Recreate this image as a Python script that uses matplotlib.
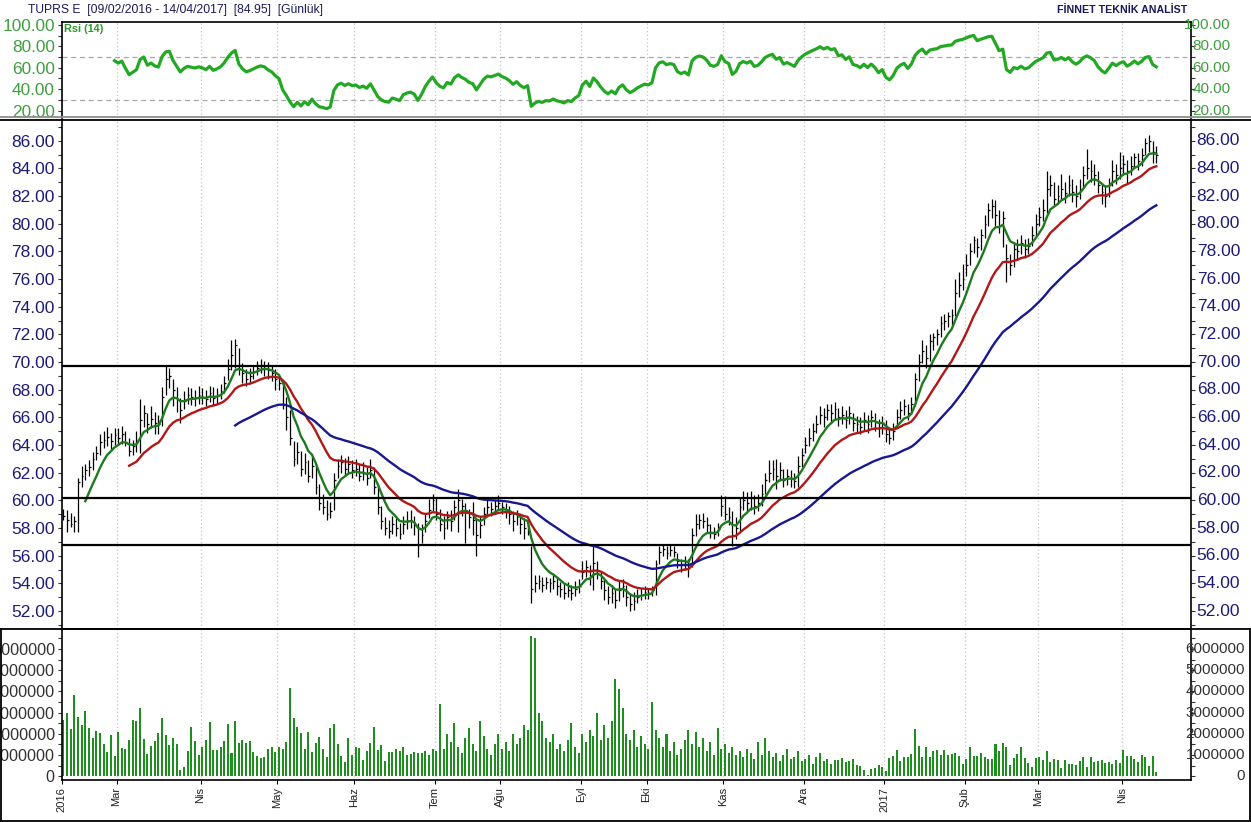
"""TUPRS daily chart: RSI(14), price bars with moving averages, volume."""

from __future__ import annotations

import matplotlib

matplotlib.use("Agg")
import matplotlib.pyplot as plt
import matplotlib.transforms as mtransforms
import numpy as np
import pandas as pd
from matplotlib.lines import Line2D
from matplotlib.ticker import FuncFormatter, MultipleLocator

plt.rcParams["font.family"] = ["Liberation Sans", "DejaVu Sans"]

# Borsa Istanbul trading days 09/02/2016 - 14/04/2017
START, END = "2016-02-09", "2017-04-14"
HOLIDAYS = ["2016-05-19", "2016-07-05", "2016-07-06", "2016-07-07", "2016-08-30",
            "2016-09-12", "2016-09-13", "2016-09-14", "2016-09-15"]
MONTH_LABELS = ["2016", "Mar", "Nis", "May", "Haz", "Tem", "Ağu", "Eyl", "Eki",
                "Kas", "Ara", "2017", "Şub", "Mar", "Nis"]

CLOSE = [
    58.9, 58.6, 58.3, 58.5, 61.3, 61.8, 62.2, 62.4, 63.0, 63.4, 64.2, 64.4, 64.6, 64.3, 64.7,
    64.5, 64.8, 64.2, 63.6, 63.9, 64.2, 65.8, 66.3, 65.5, 65.9, 65.6, 65.5, 67.5, 68.8, 69.0,
    68.0, 67.3, 66.5, 67.2, 67.6, 67.5, 67.4, 67.6,
    67.5, 67.3, 67.8, 67.4, 67.6, 67.9, 68.5, 69.5, 70.5, 71.2, 69.8, 69.2, 68.8, 69.0, 69.3,
    69.6, 69.8, 69.7, 69.4, 69.2, 68.8,
    68.5, 67.0, 66.0, 64.5, 63.0, 63.5, 62.3, 62.8, 61.8, 62.5, 61.0, 59.8, 59.5, 59.0, 59.2,
    61.5, 62.5, 62.8, 62.3, 62.6, 62.2,
    62.3, 61.8, 62.0, 61.6, 62.2, 61.0, 59.5, 58.5, 58.0, 57.8, 58.3, 58.0, 57.6, 58.3, 58.5,
    58.6, 58.2, 56.8, 57.5, 58.5, 59.3, 60.0,
    59.0, 58.3, 58.0, 58.8, 58.5, 59.5, 60.0, 59.6, 59.3, 58.8, 58.6, 57.5, 58.2, 59.0, 59.5,
    59.4, 59.6, 59.8,
    59.5, 59.3, 59.0, 58.5, 58.8, 58.3, 58.0, 58.2, 53.6, 54.0, 54.2, 53.9, 54.1, 54.0, 54.2,
    53.8, 53.6, 53.3, 53.5, 53.3, 53.6, 53.8,
    54.8, 55.2, 54.5, 55.5, 55.0, 54.2, 53.5, 53.0, 53.3, 52.8, 53.5, 53.8, 53.0, 52.5, 52.7,
    53.0, 53.2, 53.4,
    53.3, 53.5, 55.4, 56.3, 56.5, 56.2, 56.4, 56.3, 55.6, 55.4, 55.6, 55.3, 57.5, 58.3, 58.6,
    58.5, 58.2, 57.7, 57.6, 57.9, 59.6,
    59.0, 58.8, 57.5, 58.0, 59.5, 60.0, 59.8, 60.2, 59.6, 59.8, 60.5, 61.5, 62.0, 62.3, 61.8,
    62.2, 61.5, 61.8, 61.6, 61.4, 62.5, 63.3,
    64.0, 64.5, 65.0, 65.5, 66.2, 66.0, 66.5, 66.3, 66.6, 66.0, 66.2, 65.8, 66.3, 65.6, 65.5,
    65.3, 65.8, 65.5, 66.0, 65.7, 65.2, 65.6,
    64.8, 64.5, 65.0, 66.0, 66.5, 66.8, 66.3, 67.0, 68.8, 70.0, 70.8, 70.3, 71.5, 71.8, 72.0,
    72.8, 73.0, 73.3, 73.4, 75.0, 75.6, 76.0,
    77.0, 78.0, 78.8, 78.3, 79.2, 80.0, 81.0, 81.3, 80.6, 79.8, 80.4, 77.5, 77.0, 78.2, 78.0,
    78.6, 78.2, 78.4, 79.2, 80.0,
    80.5, 81.0, 82.5, 82.8, 81.8, 82.0, 82.5, 82.2, 82.8, 82.3, 82.0, 82.5, 83.5, 84.0, 83.8,
    83.5, 82.8, 82.3, 82.0, 82.8, 83.8, 83.5, 84.0,
    84.3, 83.8, 84.2, 84.8, 84.5, 85.0, 85.8, 86.0, 85.2, 84.95,
]

HIGH = [
    59.4, 59.3, 59.1, 58.9, 61.6, 62.5, 62.6, 62.9, 63.5, 63.9, 64.8, 65.0, 65.3, 64.9, 65.2,
    65.2, 65.4, 65.0, 64.5, 64.4, 65.0, 67.3, 66.9, 66.3, 66.8, 66.4, 66.2, 68.2, 69.7, 69.6,
    68.8, 68.2, 67.4, 67.9, 68.2, 68.1, 68.0, 68.3,
    68.1, 68.0, 68.3, 68.2, 68.1, 68.4, 69.0, 70.2, 71.6, 71.7, 71.0, 69.9, 69.5, 69.6, 69.8,
    70.1, 70.2, 70.1, 70.0, 69.8, 69.5,
    69.0, 68.6, 67.5, 66.5, 64.3, 64.2, 63.6, 63.4, 62.9, 63.2, 62.6, 61.2, 60.5, 60.0, 59.9,
    62.0, 63.0, 63.3, 63.1, 63.2, 62.9,
    63.0, 62.6, 62.8, 62.4, 63.0, 62.4, 61.2, 59.6, 58.8, 58.6, 58.9, 58.7, 58.4, 58.9, 59.2,
    59.3, 58.9, 58.4, 58.3, 59.0, 60.1, 60.5,
    60.2, 59.4, 58.9, 59.2, 59.3, 60.0, 60.8, 60.1, 59.8, 59.4, 59.9, 58.7, 58.9, 59.5, 60.0,
    59.9, 60.1, 60.4,
    59.9, 59.8, 59.6, 59.2, 59.3, 58.9, 58.7, 58.6, 56.7, 54.6, 54.6, 54.5, 54.5, 54.4, 54.6,
    54.4, 54.1, 54.0, 54.1, 53.9, 54.2, 54.3,
    55.6, 55.7, 55.3, 56.8, 55.6, 54.9, 54.3, 53.8, 53.9, 53.6, 54.2, 54.3, 53.9, 53.3, 53.4,
    53.6, 53.7, 53.8,
    53.7, 53.8, 55.7, 56.7, 56.8, 56.7, 56.8, 56.7, 56.2, 55.8, 56.0, 55.8, 58.0, 59.0, 59.0,
    59.1, 58.8, 58.3, 58.1, 58.4, 60.4,
    60.3, 59.5, 59.2, 58.8, 60.2, 60.7, 60.6, 60.7, 60.4, 60.5, 61.2, 62.0, 62.9, 62.9, 63.0,
    62.8, 62.3, 62.3, 62.2, 62.0, 63.2, 63.8,
    64.6, 65.2, 65.6, 66.2, 66.8, 66.7, 67.0, 67.0, 67.1, 66.7, 66.8, 66.5, 66.8, 66.3, 66.1,
    66.0, 66.4, 66.2, 66.5, 66.3, 65.9, 66.1,
    65.8, 65.3, 65.6, 66.6, 67.2, 67.3, 67.0, 67.5, 69.2, 70.6, 71.6, 71.2, 72.0, 72.1, 72.4,
    73.3, 73.5, 73.6, 73.8, 76.0, 76.5, 77.1,
    77.8, 78.6, 79.1, 79.0, 79.6, 80.6, 81.5, 81.8, 81.7, 81.0, 80.9, 78.5, 77.8, 78.7, 78.9,
    79.2, 78.9, 79.0, 79.8, 80.7,
    81.2, 81.8, 83.8, 83.5, 83.0, 82.8, 83.6, 83.0, 83.5, 83.2, 82.8, 83.2, 84.2, 85.4, 84.6,
    84.3, 83.8, 82.9, 82.8, 83.3, 84.6, 84.3, 85.2,
    85.0, 84.6, 84.9, 85.1, 85.1, 85.5, 86.2, 86.4, 86.0, 85.6,
]

LOW = [
    58.6, 57.7, 58.1, 57.7, 57.7, 61.0, 61.5, 61.8, 62.2, 62.9, 63.3, 63.8, 63.9, 63.7, 64.0,
    64.0, 64.1, 63.9, 63.2, 63.3, 63.5, 63.4, 65.3, 64.9, 65.2, 64.8, 64.8, 65.4, 67.6, 68.1,
    66.8, 66.4, 65.6, 66.6, 67.0, 66.9, 66.8, 67.0,
    67.0, 66.8, 67.1, 66.9, 67.0, 67.3, 67.8, 68.7, 69.4, 69.6, 69.1, 68.5, 68.3, 68.4, 68.8,
    69.1, 69.2, 69.0, 68.8, 68.6, 68.0,
    68.0, 66.6, 65.1, 64.0, 62.5, 62.6, 61.8, 61.9, 61.3, 61.6, 60.5, 59.3, 59.0, 58.6, 58.7,
    59.3, 61.6, 62.0, 61.8, 61.9, 61.6,
    61.8, 61.4, 61.5, 61.1, 61.6, 60.5, 59.0, 57.9, 57.5, 57.3, 57.6, 57.4, 57.2, 57.6, 57.9,
    58.0, 57.5, 55.9, 56.9, 57.7, 58.7, 59.2,
    58.6, 57.8, 57.2, 57.9, 57.8, 58.6, 57.7, 58.9, 56.9, 58.0, 57.5, 56.0, 57.3, 58.2, 59.0,
    58.9, 59.0, 59.3,
    59.0, 58.7, 58.3, 57.8, 58.2, 57.6, 57.2, 57.5, 52.6, 53.4, 53.6, 53.4, 53.6, 53.4, 53.6,
    53.2, 53.0, 52.9, 53.0, 52.8, 53.1, 53.3,
    54.3, 54.5, 53.9, 53.5, 54.3, 53.6, 52.8, 52.5, 52.6, 52.2, 52.7, 53.0, 52.4, 52.0, 52.1,
    52.6, 52.8, 52.9,
    52.9, 53.1, 53.2, 55.4, 56.0, 55.8, 56.0, 55.9, 55.1, 54.8, 55.0, 54.5, 55.2, 57.4, 57.9,
    58.0, 57.7, 57.3, 57.2, 57.4, 58.9,
    58.6, 58.2, 56.7, 57.2, 57.8, 59.3, 59.2, 59.3, 59.0, 59.2, 59.6, 60.5, 61.3, 61.5, 60.8,
    61.4, 61.0, 61.1, 61.0, 60.9, 61.0, 62.4,
    63.4, 63.9, 64.3, 64.9, 65.5, 65.3, 65.8, 65.6, 65.9, 65.4, 65.5, 65.2, 65.5, 65.0, 64.9,
    64.8, 65.1, 64.9, 65.3, 65.0, 64.6, 64.8,
    64.2, 64.1, 64.4, 65.2, 65.9, 66.2, 65.8, 66.4, 66.8, 68.6, 69.9, 69.6, 70.1, 70.9, 71.2,
    71.8, 72.3, 72.5, 72.7, 73.3, 74.7, 75.2,
    76.2, 77.0, 77.9, 77.6, 78.1, 79.0, 79.8, 80.4, 79.8, 79.3, 78.3, 75.8, 76.3, 76.9, 77.4,
    77.8, 77.5, 77.8, 78.4, 79.1,
    79.8, 80.2, 80.8, 82.0, 81.3, 81.4, 81.8, 81.5, 82.0, 81.6, 81.2, 81.8, 82.6, 83.2, 83.0,
    82.8, 82.2, 81.4, 81.2, 81.9, 82.7, 82.9, 83.2,
    83.5, 82.9, 83.5, 84.0, 83.9, 84.2, 85.0, 85.2, 84.4, 84.4,
]

# volume, millions of shares
VOLUME = [
    2.66, 2.97, 2.23, 3.83, 2.80, 2.42, 3.08, 2.26, 1.81, 2.14, 2.04, 1.52, 1.15, 1.95, 0.96,
    2.09, 1.33, 1.29, 1.71, 2.66, 2.61, 3.22, 1.76, 1.05, 1.43, 1.67, 2.04, 2.75, 1.95, 1.48,
    1.81, 1.52, 0.30, 0.44, 1.19, 2.32, 1.67, 1.01, 1.38, 1.71, 2.56, 1.24, 1.24, 1.38, 1.67,
    2.47, 1.10, 2.61, 1.57, 1.71, 1.57, 1.67, 1.15, 0.96, 0.86, 0.91, 1.29, 1.38, 1.15, 1.38,
    1.29, 1.62, 4.17, 2.75, 2.32, 2.04, 1.29, 2.09, 1.15, 1.57, 1.85, 1.29, 0.91, 2.28, 2.47,
    1.52, 0.96, 0.68, 1.81, 1.01, 1.38, 1.33, 0.77, 1.19, 1.57, 2.32, 1.24, 1.48, 0.72, 1.15,
    1.15, 1.29, 1.19, 1.38, 1.01, 1.05, 1.15, 1.10,
    1.1, 1.2, 1.0, 1.3, 1.2, 3.4, 1.3, 2.0, 1.6, 2.5, 1.4, 1.1, 1.8, 2.3, 1.5, 1.2, 2.6, 1.9,
    1.3, 1.0, 1.5, 2.0, 1.3, 1.6, 1.2, 2.0, 1.5, 1.8, 2.4, 2.2, 6.6, 6.5, 3.0, 2.6, 1.8, 1.6,
    2.0, 1.3, 1.5, 1.2, 1.7, 2.5, 1.4, 1.1, 2.0, 1.6, 2.2, 1.9, 3.0, 1.7, 2.4, 1.8, 2.6, 4.6,
    4.1, 3.2, 2.0, 1.7, 2.2, 1.4, 1.9, 1.5, 1.3, 3.5, 2.2, 1.8, 1.4, 2.0, 1.2, 1.6, 1.0, 1.3,
    1.7, 2.2, 1.5, 2.1, 1.4, 1.8, 1.2, 1.6, 1.0, 2.3, 1.3, 1.5, 1.1, 1.4, 1.0, 1.2, 0.9, 1.3,
    1.1, 0.8, 1.6, 1.0, 1.8, 1.2, 0.9, 1.1, 0.7, 1.0, 1.3, 0.8, 0.9, 1.2, 0.7, 0.8, 1.0, 0.6,
    0.9, 1.1, 0.7, 0.8, 0.6,
    0.77, 0.77, 0.86, 0.68, 0.72, 0.82, 0.53, 0.49, 0.30, 0.06, 0.34, 0.39, 0.53, 0.44, 0.25,
    0.86, 0.96, 1.24, 0.72, 0.91, 0.91, 1.05, 2.23, 1.43, 0.91, 1.38, 0.91, 1.19, 1.24, 1.01,
    1.24, 1.01, 1.05, 1.10, 0.96, 0.58, 0.82, 1.38, 0.96, 0.96, 1.10, 0.91, 0.82, 0.82, 1.52,
    1.19, 1.57, 1.38, 0.53, 0.86, 1.05, 1.38, 0.86, 0.63, 0.44, 0.86, 0.91, 0.77, 1.19, 0.68,
    0.82, 0.77, 0.39, 0.77, 0.58, 0.58, 0.53, 0.72, 0.91, 0.44, 0.91, 0.68, 0.72, 0.77, 0.63,
    0.68, 0.58, 0.77, 0.63, 1.24, 0.96, 0.96, 0.82, 0.68, 1.01, 0.91, 0.49, 0.96, 0.20,
]

LEVELS = [69.75, 60.19, 56.77]   # horizontal support / resistance lines
MA_PERIODS = [(7, "#1f7a1f"), (19, "#b01818"), (48, "#18188f")]
RSI_PERIOD = 14

W, H, DPI = 1251, 822, 100
LEFT, RIGHT = 61.7, 1190.7


def px_box(top: float, bottom: float) -> list[float]:
    return [LEFT / W, 1 - bottom / H, (RIGHT - LEFT) / W, (bottom - top) / H]


def ema(values: np.ndarray, n: int) -> np.ndarray:
    out = np.full(len(values), np.nan)
    out[n - 1] = values[:n].mean()
    a = 2.0 / (n + 1)
    for i in range(n, len(values)):
        out[i] = a * values[i] + (1 - a) * out[i - 1]
    return out


def rsi(values: np.ndarray, n: int) -> np.ndarray:
    d = pd.Series(values).diff()
    up = d.clip(lower=0).ewm(alpha=1 / n, min_periods=n, adjust=False).mean()
    dn = (-d.clip(upper=0)).ewm(alpha=1 / n, min_periods=n, adjust=False).mean()
    return (100 - 100 / (1 + up / dn)).to_numpy()


def right_labels(fig, ax, values, fmt, x_px, color, size):
    tr = mtransforms.blended_transform_factory(fig.transFigure, ax.transData)
    for v in values:
        ax.text(x_px / W, v, fmt(v), transform=tr, ha="right", va="center",
                color=color, fontsize=size, clip_on=False)


def main() -> None:
    close = np.array(CLOSE)
    high = np.array(HIGH)
    low = np.array(LOW)
    vol = np.array(VOLUME) * 1e6
    days = pd.bdate_range(START, END, freq="C", holidays=HOLIDAYS)
    n = len(close)
    assert len(high) == len(low) == len(vol) == n == len(days), (len(close), len(days))
    x = np.arange(n)

    month_start = [i for i in range(n) if i == 0 or days[i].month != days[i - 1].month]
    grid_x = np.array(month_start) - 0.45
    xlim = (-0.45, 308.4)

    fig = plt.figure(figsize=(W / DPI, H / DPI), dpi=DPI)
    ax_rsi = fig.add_axes(px_box(21.7, 118.3))
    ax_px = fig.add_axes(px_box(120.5, 629.0))
    ax_vol = fig.add_axes(px_box(629.0, 780.0))

    for ax in (ax_rsi, ax_px, ax_vol):
        ax.set_xlim(*xlim)
        for g in grid_x[1:]:
            ax.axvline(g, color="#c4c4c4", lw=0.9, ls=(0, (1, 2)), zorder=0)
        ax.tick_params(axis="y", which="both", direction="out", left=True, right=True,
                       length=3, width=0.8, pad=2, color="#333333")
        for s in ax.spines.values():
            s.set_linewidth(1.2)
        ax.tick_params(axis="x", bottom=False, labelbottom=False)

    # RSI panel
    ax_rsi.plot(x, rsi(close, RSI_PERIOD), color="#22a822", lw=2.3, solid_joinstyle="round")
    for lvl in (70, 30):
        ax_rsi.axhline(lvl, color="#a8a8a8", lw=0.9, ls=(0, (4, 3)), zorder=0)
    ax_rsi.set_ylim(12.8, 103.08)
    ax_rsi.set_yticks([20, 40, 60, 80, 100])
    ax_rsi.yaxis.set_minor_locator(MultipleLocator(10))
    ax_rsi.yaxis.set_major_formatter(FuncFormatter(lambda v, _: f"{v:.2f}"))
    ax_rsi.tick_params(axis="y", labelsize=12.4, labelcolor="#3f9f3f")
    right_labels(fig, ax_rsi, [20, 40, 60, 80, 100], lambda v: f"{v:.2f}", 1230.5,
                 "#3f9f3f", 11)
    ax_rsi.spines["bottom"].set_visible(False)
    ax_rsi.text(64 / W, 1 - 28.5 / H, "Rsi (14)", transform=fig.transFigure,
                color="#2a9a2a", fontsize=7.8, fontweight="bold", va="center")

    # price panel
    ax_px.vlines(x, low, high, color="black", lw=0.9)
    ax_px.hlines(close, x, x + 0.5, color="black", lw=0.9)
    for period, color in MA_PERIODS:
        ax_px.plot(x, ema(close, period), color=color, lw=1.7)
    for lvl in LEVELS:
        ax_px.axhline(lvl, color="black", lw=1.6)
    ax_px.set_ylim(50.708, 87.458)
    px_ticks = np.arange(52, 87, 2)
    ax_px.set_yticks(px_ticks)
    ax_px.yaxis.set_minor_locator(MultipleLocator(1))
    ax_px.yaxis.set_major_formatter(FuncFormatter(lambda v, _: f"{v:.2f}"))
    ax_px.tick_params(axis="y", labelsize=12.5, labelcolor="#1c1c78")
    right_labels(fig, ax_px, px_ticks, lambda v: f"{v:.2f}", 1240, "#1c1c78", 12.5)
    ax_px.spines["top"].set_visible(False)

    # volume panel; left labels run off the left edge as in the source chart
    ax_vol.bar(x, vol, width=0.55, color="#1e8e1e", edgecolor="none")
    ax_vol.set_ylim(-0.1745e6, 6.948e6)
    vol_ticks = np.arange(0, 7e6, 1e6)
    ax_vol.set_yticks(vol_ticks)
    ax_vol.yaxis.set_minor_locator(MultipleLocator(5e5))
    ax_vol.yaxis.set_major_formatter(FuncFormatter(lambda v, _: f"{v:.0f}"))
    ax_vol.tick_params(axis="y", labelsize=11.7, labelcolor="#333333")
    right_labels(fig, ax_vol, vol_ticks, lambda v: f"{v:.0f}", 1245, "#333333", 11)
    ax_vol.set_xticks(grid_x, MONTH_LABELS, rotation=90)
    ax_vol.tick_params(axis="x", bottom=True, labelbottom=True, length=3, width=0.8,
                       pad=2, labelsize=8, labelcolor="#202020")

    # separators and frame
    def hline(y, color, lw, x0=0.0, x1=1.0):
        fig.add_artist(Line2D([x0, x1], [1 - y / H] * 2, color=color, lw=lw))

    hline(117.4, "#8c8c8c", 1.3)
    hline(119.6, "black", 1.3)
    hline(629.0, "black", 1.3)
    hline(821.0, "black", 1.3, 1 / W, 1249.5 / W)
    for xp in (1.0, 1249.5):
        fig.add_artist(Line2D([xp / W] * 2, [1 - 629 / H, 1 - 821 / H], color="black", lw=1.3))

    fig.text(28 / W, 1 - 10 / H, "TUPRS E  [09/02/2016 - 14/04/2017]  [84.95]  [Günlük]",
             ha="left", va="center", color="#1a1a5a", fontsize=8.7)
    fig.text(1187 / W, 1 - 10 / H, "FİNNET TEKNİK ANALİST", ha="right", va="center",
             color="#1a1a5a", fontsize=7.7, fontweight="bold")

    fig.savefig("out.png", dpi=DPI)
    plt.close(fig)


if __name__ == "__main__":
    main()
